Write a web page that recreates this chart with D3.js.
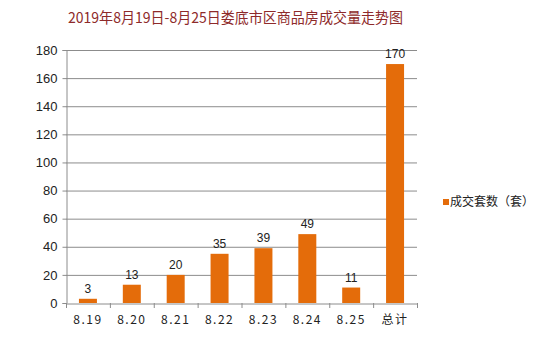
<!DOCTYPE html>
<html><head><meta charset="utf-8">
<script src="https://cdn.jsdelivr.net/npm/d3@7"></script>
<style>body{margin:0;background:#fff;}svg{display:block;}</style>
</head><body>
<svg id="c" width="560" height="352"></svg>
<script>
const categories = ["8.19","8.20","8.21","8.22","8.23","8.24","8.25","总计"];
const values = [3,13,20,35,39,49,11,170];
const yTicks = [0,20,40,60,80,100,120,140,160,180];
const seriesName = "成交套数（套）";
const title = "2019年8月19日-8月25日娄底市区商品房成交量走势图";

(function(){
const svg = d3.select("#c");
const pLeft = 66, pRight = 417, pTop = 50, pBottom = 303;
const x = d3.scaleBand().domain(categories).range([pLeft, pRight]).paddingInner(0.59).paddingOuter(0.295);
const xb = d3.scaleBand().domain(categories).range([pLeft, pRight]);
const y = d3.scaleLinear().domain([0,180]).range([pBottom, pTop]);
const font = "'Noto Sans CJK SC', 'DejaVu Sans', sans-serif";
const orange = "#E46C0A";

svg.append("text").attr("x", 68).attr("y", 23).attr("font-family", font)
  .attr("font-size", 15).attr("fill", "#8E2A2A").attr("textLength", 335)
  .attr("lengthAdjust","spacingAndGlyphs").text(title);

svg.append("g").selectAll("line").data(yTicks.filter(d=>d>0)).join("line")
  .attr("x1", pLeft).attr("x2", pRight).attr("y1", d=>y(d)+0.5).attr("y2", d=>y(d)+0.5)
  .attr("stroke", "#8c8c8c").attr("stroke-width", 1);

const ya = svg.append("g").attr("transform", `translate(${pLeft+0.5},0)`)
  .call(d3.axisLeft(y).tickValues(yTicks).tickSize(4).tickPadding(5));
ya.select(".domain").attr("stroke", "#8c8c8c");
ya.selectAll(".tick line").attr("stroke", "#8c8c8c");
ya.selectAll("text").attr("font-family", "'Liberation Sans', sans-serif").attr("font-size", 13).attr("fill", "#222");

const xa = svg.append("g").attr("transform", `translate(0,${pBottom+0.5})`)
  .call(d3.axisBottom(xb).tickSize(0).tickPadding(12));
xa.select(".domain").attr("stroke", "#8c8c8c");
xa.selectAll("text").attr("font-family", font).attr("font-size", 12).attr("letter-spacing", 1.5).attr("fill", "#222");
svg.append("g").selectAll("line").data(categories.concat(["_end"])).join("line")
  .attr("x1", (d,i)=>pLeft + i*xb.step()+0.5).attr("x2", (d,i)=>pLeft + i*xb.step()+0.5)
  .attr("y1", pBottom).attr("y2", pBottom+5).attr("stroke", "#8c8c8c");

svg.append("g").selectAll("rect").data(values).join("rect")
  .attr("x", (d,i)=>x(categories[i])).attr("width", x.bandwidth())
  .attr("y", d=>y(d)).attr("height", d=>pBottom - y(d)).attr("fill", orange);

svg.append("g").selectAll("text").data(values).join("text")
  .attr("x", (d,i)=>x(categories[i]) + x.bandwidth()/2).attr("y", d=>y(d)-6)
  .attr("text-anchor", "middle").attr("font-family", "'Liberation Sans', sans-serif")
  .attr("font-size", 12).attr("fill", "#222").text(d=>d);

svg.append("rect").attr("x", 443).attr("y", 199).attr("width", 6).attr("height", 6).attr("fill", orange);
svg.append("text").attr("x", 450).attr("y", 206).attr("font-family", font).attr("font-size", 12)
  .attr("fill", "#222").text(seriesName);
})();
</script>
</body></html>
